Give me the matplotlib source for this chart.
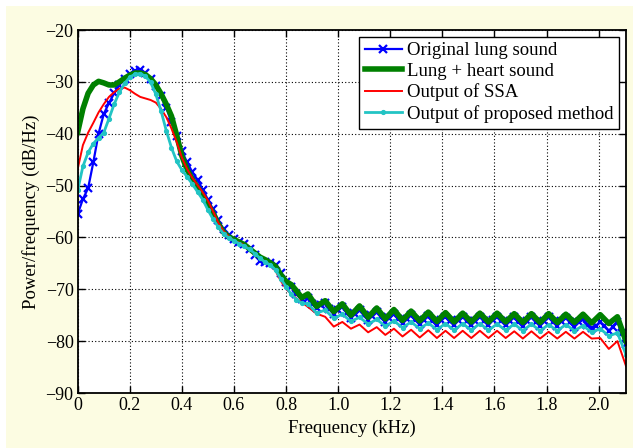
import matplotlib
matplotlib.use("Agg")
import matplotlib.pyplot as plt
from matplotlib.patches import Rectangle

# ---------------- data (frequency in kHz, PSD in dB/Hz) ----------------
freq = [0.00, 0.02, 0.04, 0.06, 0.08, 0.10, 0.12, 0.14, 0.16, 0.18,
        0.20, 0.22, 0.24, 0.26, 0.28, 0.30, 0.32, 0.34, 0.36, 0.38,
        0.40, 0.42, 0.44, 0.46, 0.48, 0.50, 0.52, 0.54, 0.56, 0.58,
        0.60, 0.62, 0.64, 0.66, 0.68, 0.70, 0.72, 0.74, 0.76, 0.78,
        0.80, 0.82, 0.84, 0.86,
        0.884, 0.917, 0.950, 0.983, 1.016, 1.049, 1.082, 1.115, 1.148, 1.181,
        1.214, 1.247, 1.280, 1.313, 1.346, 1.379, 1.412, 1.445, 1.478, 1.511,
        1.544, 1.577, 1.610, 1.643, 1.676, 1.709, 1.742, 1.775, 1.808, 1.841,
        1.874, 1.907, 1.940, 1.973, 2.006, 2.039, 2.072, 2.105]

# the original lung sound is sampled more densely (one marker per bin)
freq_original = [0.00, 0.02, 0.04, 0.06, 0.08, 0.10, 0.12, 0.14, 0.16, 0.18,
                 0.20, 0.22, 0.24, 0.26, 0.28, 0.30, 0.32, 0.34, 0.36, 0.38,
                 0.40, 0.42, 0.44, 0.46, 0.48, 0.50, 0.52, 0.54, 0.56, 0.58,
                 0.60, 0.62, 0.64, 0.66, 0.68, 0.70, 0.72, 0.74, 0.76, 0.78,
                 0.80, 0.82, 0.84, 0.86,
                 0.884, 0.900, 0.917, 0.933, 0.950, 0.966, 0.983, 0.999, 1.016, 1.032,
                 1.049, 1.065, 1.082, 1.098, 1.115, 1.131, 1.148, 1.164, 1.181, 1.197,
                 1.214, 1.230, 1.247, 1.263, 1.280, 1.296, 1.313, 1.329, 1.346, 1.362,
                 1.379, 1.395, 1.412, 1.428, 1.445, 1.461, 1.478, 1.494, 1.511, 1.527,
                 1.544, 1.560, 1.577, 1.593, 1.610, 1.626, 1.643, 1.659, 1.676, 1.692,
                 1.709, 1.725, 1.742, 1.758, 1.775, 1.791, 1.808, 1.824, 1.841, 1.857,
                 1.874, 1.890, 1.907, 1.923, 1.940, 1.956, 1.973, 1.989, 2.006, 2.022,
                 2.039, 2.055, 2.072, 2.088, 2.105]

original_lung = [-55.5, -52.6, -50.5, -45.5, -40.0, -36.2, -34.1, -32.2, -30.6, -29.4,
                 -28.4, -27.9, -27.8, -28.2, -29.4, -30.8, -32.8, -35.0, -37.8, -40.4,
                 -43.4, -45.5, -47.4, -48.9, -50.8, -52.7, -54.6, -56.7, -58.4, -59.6,
                 -60.3, -60.8, -61.3, -62.2, -63.4, -64.6, -64.8, -65.0, -65.4, -66.9,
                 -68.6, -69.5, -71.0, -71.9,
                 -71.6, -72.8, -73.7, -73.1, -72.7, -73.8, -74.8, -74.0, -73.4, -74.5,
                 -75.5, -74.7, -74.0, -75.0, -75.9, -75.1, -74.4, -75.4, -76.3, -75.5,
                 -74.7, -75.7, -76.5, -75.8, -75.0, -75.9, -76.7, -75.9, -75.2, -76.1,
                 -76.8, -76.0, -75.3, -76.2, -76.9, -76.0, -75.3, -76.2, -76.9, -76.1,
                 -75.3, -76.2, -76.9, -76.0, -75.3, -76.2, -76.9, -76.1, -75.4, -76.3,
                 -77.0, -76.2, -75.4, -76.3, -77.0, -76.1, -75.4, -76.3, -77.0, -76.2,
                 -75.5, -76.4, -77.2, -76.4, -75.8, -76.8, -77.5, -77.1, -76.3, -77.0,
                 -78.0, -77.2, -76.3, -78.5, -80.5]

lung_heart = [-39.7, -35.2, -32.2, -30.6, -29.9, -30.2, -30.6, -30.6, -30.0, -29.3,
              -28.7, -28.3, -28.3, -28.6, -29.4, -30.6, -32.3, -34.3, -36.6, -40.3,
              -44.3, -46.9, -48.8, -50.3, -51.9, -53.6, -55.4, -57.4, -59.0, -59.9,
              -60.4, -60.9, -61.4, -62.2, -63.0, -63.8, -64.3, -64.9, -65.6, -67.2,
              -68.5, -69.1, -70.3, -71.6,
              -70.9, -73.3, -72.2, -74.3, -72.8, -75.0, -73.2, -75.4, -73.6, -75.7,
              -73.9, -76.0, -74.2, -76.1, -74.4, -76.2, -74.5, -76.3, -74.6, -76.3,
              -74.6, -76.3, -74.6, -76.3, -74.7, -76.4, -74.7, -76.4, -74.7, -76.4,
              -74.8, -76.4, -74.8, -76.5, -74.9, -76.6, -75.3, -80.0]

output_ssa = [-46.8, -42.2, -39.8, -37.9, -35.9, -34.3, -32.9, -32.0, -31.3, -31.1,
              -31.6, -32.3, -32.9, -33.2, -33.5, -34.0, -35.2, -36.8, -39.0, -41.6,
              -44.6, -46.8, -48.5, -49.9, -51.3, -52.9, -55.0, -57.2, -58.8, -59.8,
              -60.6, -61.0, -61.5, -62.3, -63.1, -64.0, -64.7, -65.3, -66.5, -68.4,
              -69.9, -70.9, -71.8, -72.5,
              -73.4, -74.7, -75.3, -77.2, -76.3, -77.6, -76.8, -78.3, -77.3, -78.8,
              -77.6, -79.1, -77.8, -79.3, -77.9, -79.4, -78.0, -79.4, -78.0, -79.4,
              -78.0, -79.4, -78.0, -79.4, -78.1, -79.5, -78.1, -79.5, -78.2, -79.5,
              -78.2, -79.5, -78.2, -79.5, -79.4, -81.5, -80.0, -84.8]

output_proposed = [-50.9, -46.3, -43.6, -41.9, -40.8, -39.8, -37.1, -34.3, -32.0, -30.3,
                   -29.1, -28.5, -28.4, -28.9, -30.1, -32.4, -35.6, -39.4, -42.7, -45.3,
                   -47.0, -48.3, -49.7, -51.2, -52.7, -54.7, -56.5, -58.0, -59.3, -60.1,
                   -60.6, -61.2, -61.7, -62.3, -63.1, -64.0, -64.8, -65.3, -66.3, -68.0,
                   -69.5, -71.0, -72.0, -72.7,
                   -72.8, -74.6, -74.0, -75.6, -74.8, -76.2, -75.4, -76.7, -75.8, -77.1,
                   -76.1, -77.4, -76.3, -77.6, -76.5, -77.8, -76.6, -77.9, -76.6, -77.9,
                   -76.6, -77.9, -76.7, -77.9, -76.7, -78.0, -76.7, -78.0, -76.8, -78.0,
                   -76.8, -78.0, -77.0, -78.3, -77.6, -79.0, -78.4, -82.6]

series_labels = ["Original lung sound", "Lung + heart sound",
                 "Output of SSA", "Output of proposed method"]

x_ticks = [0.0, 0.2, 0.4, 0.6, 0.8, 1.0, 1.2, 1.4, 1.6, 1.8, 2.0]
x_tick_labels = ["0", "0.2", "0.4", "0.6", "0.8", "1.0", "1.2", "1.4", "1.6", "1.8", "2.0"]
y_ticks = [-90, -80, -70, -60, -50, -40, -30, -20]

# ---------------- figure ----------------
plt.rcParams['font.family'] = ['Liberation Serif', 'DejaVu Serif']
plt.rcParams['axes.unicode_minus'] = True

fig = plt.figure(figsize=(6.33, 4.48), dpi=100, facecolor='white')
fig.patches.append(Rectangle((6 / 633, 0), 1 - 6 / 633, 1 - 6 / 448,
                             transform=fig.transFigure, facecolor='#fcfce2',
                             edgecolor='none', zorder=-10))

ax = fig.add_axes([77.7 / 633, 1 - 393 / 448, (626 - 77.7) / 633, (393 - 30) / 448])
ax.set_facecolor('white')

ax.plot(freq_original, original_lung, color='#0000ff', lw=1.6, marker='x', ms=6, mew=1.6,
        label=series_labels[0])
ax.plot(freq, lung_heart, color='#008000', lw=4.0, label=series_labels[1])
ax.plot(freq, output_ssa, color='#ff0000', lw=1.4, label=series_labels[2])
ax.plot(freq, output_proposed, color='#22c4c4', lw=2.0, marker='.', ms=5.5,
        label=series_labels[3])

ax.set_xlim(0, 2.105)
ax.set_ylim(-90, -20)
ax.set_xticks(x_ticks)
ax.set_xticklabels(x_tick_labels)
ax.set_yticks(y_ticks)

ax.grid(True, color='black', linestyle=(0, (1, 2)), linewidth=0.8)
ax.tick_params(direction='in', top=True, right=True, length=5, width=1,
               labelsize=13, pad=3)
for s in ax.spines.values():
    s.set_linewidth(1.3)

ax.set_xlabel("Frequency (kHz)", fontsize=13.5, labelpad=4)
ax.set_ylabel("Power/frequency (dB/Hz)", fontsize=13.5, labelpad=4)

leg = ax.legend(loc='upper right', fontsize=13.5, frameon=True, fancybox=False,
                framealpha=1, edgecolor='black', handlelength=2.0,
                handletextpad=0.27, borderpad=0.3, labelspacing=0.19,
                borderaxespad=0.35)
leg.get_frame().set_linewidth(1.0)

fig.savefig("out.png", dpi=100, facecolor=fig.get_facecolor())
